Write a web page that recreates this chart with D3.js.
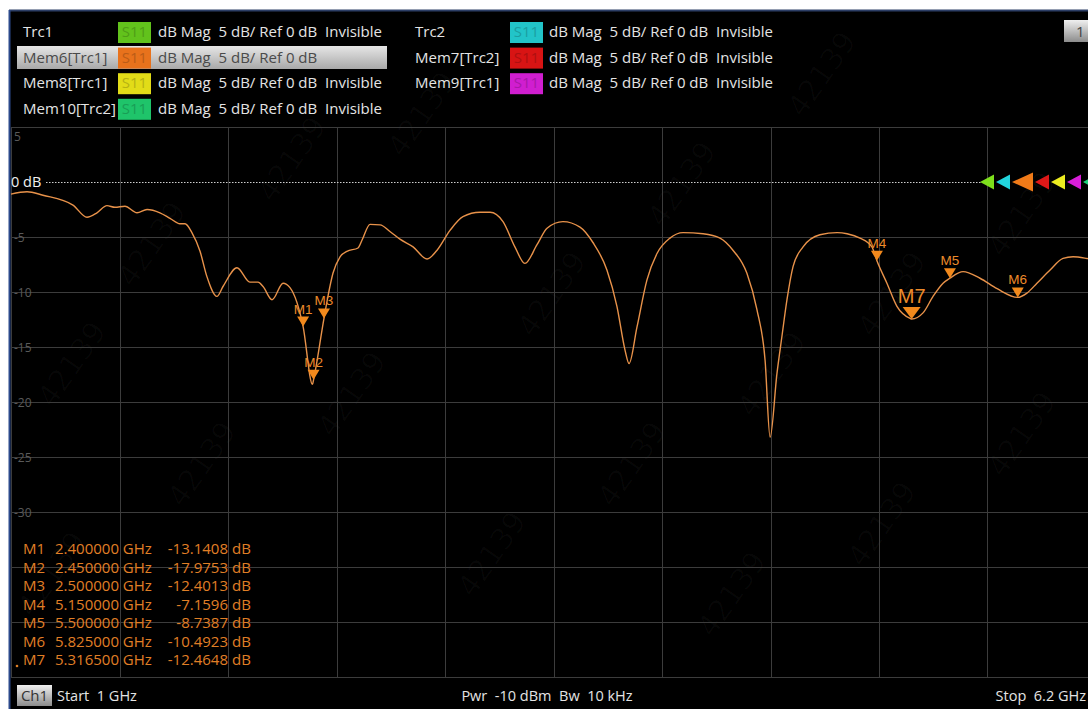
<!DOCTYPE html>
<html>
<head>
<meta charset="utf-8">
<script src="https://cdn.jsdelivr.net/npm/d3@7"></script>
<style>
  body { margin:0; background:#fff; }
  svg { display:block; font-family:"Open Sans", "Noto Sans", sans-serif; }
  .pre { white-space: pre; }
</style>
</head>
<body>
<svg id="vna" width="1088" height="709"></svg>
<script>
// trace data (GHz, dB)
var freq = [1.0, 1.077, 1.153, 1.297, 1.364, 1.412, 1.46, 1.498, 1.546, 1.604, 1.652, 1.714, 1.762, 1.81, 1.834, 1.867,
  1.906, 1.939, 1.987, 2.016, 2.083, 2.145, 2.184, 2.208, 2.251, 2.304, 2.337, 2.4, 2.445, 2.45, 2.5, 2.519, 2.543,
  2.577, 2.61, 2.663, 2.682, 2.721, 2.769, 2.816, 2.864, 2.927, 2.994, 3.042, 3.104, 3.166, 3.248, 3.296, 3.358,
  3.415, 3.463, 3.521, 3.569, 3.645, 3.727, 3.789, 3.856, 3.904, 3.943, 3.962, 4.0, 4.048, 4.096, 4.158, 4.221,
  4.317, 4.398, 4.46, 4.527, 4.575, 4.614, 4.638, 4.671, 4.695, 4.719, 4.748, 4.796, 4.877, 4.959, 5.007, 5.069,
  5.126, 5.15, 5.198, 5.246, 5.309, 5.3165, 5.371, 5.419, 5.467, 5.5, 5.563, 5.644, 5.726, 5.825, 5.869, 5.917,
  5.98, 6.042, 6.09, 6.157, 6.2];
var mag = [-1.1, -0.88, -1.2, -2.1, -3.2, -2.8, -2.15, -2.3, -2.2, -2.8, -2.5, -2.8, -3.3, -3.8, -3.8, -4.6,
  -6.3, -8.6, -10.4, -9.5, -7.8, -9.1, -9.1, -9.5, -10.7, -9.2, -9.6, -13.14, -18.4, -17.98, -12.4, -10.4, -8.3,
  -6.8, -6.3, -6.0, -5.3, -3.85, -3.9, -4.5, -5.2, -5.9, -7.0, -6.2, -4.4, -3.15, -2.75, -2.75, -3.6,
  -5.9, -7.4, -5.7, -4.2, -3.6, -4.1, -5.5, -8.0, -11.3, -15.3, -16.5, -13.2, -8.9, -6.5, -5.1, -4.6,
  -4.7, -5.1, -6.2, -8.3, -11.6, -16.2, -23.2, -17.4, -14.0, -10.7, -7.7, -5.9, -4.8, -4.6, -4.7, -5.1,
  -5.9, -7.16, -9.2, -11.3, -12.4, -12.46, -11.9, -10.4, -9.2, -8.74, -8.15, -8.75, -9.7, -10.49, -10.1, -9.2,
  -8.0, -6.95, -6.8, -6.95, -7.1];

var markerNames = ["M1", "M2", "M3", "M4", "M5", "M6", "M7"];
var markerFreq = [2.4, 2.45, 2.5, 5.15, 5.5, 5.825, 5.3165];
var markerVal = [-13.1408, -17.9753, -12.4013, -7.1596, -8.7387, -10.4923, -12.4648];

var yTicks = [5, 0, -5, -10, -15, -20, -25, -30, -35, -40, -45];
var yLabels = ["5", "0 dB", "-5", "-10", "-15", "-20", "-25", "-30"];

// trace list in the header
var trcNames = ["Trc1", "Mem6[Trc1]", "Mem8[Trc1]", "Mem10[Trc2]", "Trc2", "Mem7[Trc2]", "Mem9[Trc1]"];
var trcColors = ["#62c21c", "#e8721c", "#e2dc18", "#1fc46a", "#22c4c8", "#d81414", "#d01ed0"];
var trcInvisible = [true, false, true, true, true, true, true];
// ref level arrows on the right, left to right
var arrowColors = ["#7ee01c", "#22d4dc", "#f07a18", "#dd1818", "#ecec20", "#d81ed8", "#1fd07a"];

var svg = d3.select("#vna");
var W = 1088, H = 709;

var x = d3.scaleLinear().domain([1, 6.2]).range([11, 1096]);
var y = d3.scaleLinear().domain([5, -45]).range([127, 677]);

// frame
svg.append("rect").attr("width", W).attr("height", H).attr("fill", "#fff");
svg.append("rect").attr("x", 9).attr("y", 10).attr("width", W - 9).attr("height", H - 10).attr("fill", "#000");
svg.append("line").attr("x1", 9).attr("x2", W).attr("y1", 10.5).attr("y2", 10.5)
  .attr("stroke", "#2c3e66").attr("stroke-width", 2);
svg.append("line").attr("x1", 9.5).attr("x2", 9.5).attr("y1", 10).attr("y2", H)
  .attr("stroke", "#2c4a8c").attr("stroke-width", 2);

// faint watermark
var wm = svg.append("g").attr("fill", "#fff").attr("fill-opacity", 0.028)
  .attr("font-size", 30).attr("font-family", "DejaVu Sans");
[[160, 250], [300, 165], [80, 370], [430, 120], [560, 300], [690, 190], [830, 80], [210, 470],
 [360, 400], [500, 560], [640, 470], [780, 380], [900, 300], [1030, 220], [740, 600], [890, 530], [1030, 440], [60, 580]]
  .forEach(function(p) {
    wm.append("text").attr("transform", "translate(" + p[0] + "," + p[1] + ") rotate(-55)")
      .attr("text-anchor", "middle").text("42139");
  });

// grid
var grid = svg.append("g").attr("stroke", "#3c3c3c").attr("stroke-width", 1);
d3.range(0, 11).forEach(function(i) {
  var gx = Math.round(x(1 + 0.52 * i)) + 0.5;
  grid.append("line").attr("x1", gx).attr("x2", gx).attr("y1", y(5)).attr("y2", y(-45));
});
yTicks.forEach(function(v) {
  if (v === 0) return;
  var gy = Math.round(y(v)) + 0.5;
  grid.append("line").attr("x1", 11).attr("x2", W).attr("y1", gy).attr("y2", gy);
});

// y labels
yLabels.forEach(function(t, i) {
  var v = yTicks[i];
  if (v === 0) return;
  svg.append("text").attr("x", 14).attr("y", v === 5 ? y(v) + 14 : y(v) + 5)
    .attr("font-size", 12).attr("fill", "#5a5a5a").text(t);
});

// reference line
svg.append("line").attr("x1", 46).attr("x2", 984).attr("y1", y(0) + 0.5).attr("y2", y(0) + 0.5)
  .attr("stroke", "#cfcfcf").attr("stroke-width", 1.2).attr("stroke-dasharray", "1.5,1.5");
svg.append("text").attr("x", 11).attr("y", y(0) + 5).attr("font-size", 14.5).attr("fill", "#f0f0f0").text("0 dB");

var ax = 980;
arrowColors.forEach(function(c, i) {
  var big = i === 2;
  var w = big ? 21 : 14, h = big ? 19 : 15;
  svg.append("path")
    .attr("d", "M" + ax + "," + y(0) + "L" + (ax + w) + "," + (y(0) - h / 2) + "L" + (ax + w) + "," + (y(0) + h / 2) + "Z")
    .attr("fill", c);
  ax += w + 2;
});

// trace
var pts = freq.map(function(f, i) { return [f, mag[i]]; });
svg.append("path").datum(pts)
  .attr("fill", "none").attr("stroke", "#e8924a").attr("stroke-width", 1.4)
  .attr("d", d3.line().x(function(d) { return x(d[0]); }).y(function(d) { return y(d[1]); }).curve(d3.curveMonotoneX));

// markers
markerNames.forEach(function(m, i) {
  var mx = x(markerFreq[i]), my = y(markerVal[i]);
  var active = m === "M7";
  var w = active ? 9 : 6, h = active ? 12 : 10;
  svg.append("path").attr("d", "M" + mx + "," + my + "L" + (mx - w) + "," + (my - h) + "L" + (mx + w) + "," + (my - h) + "Z")
    .attr("fill", "#f2891c");
  svg.append("text").attr("x", mx).attr("y", my - h - (active ? 4 : 3))
    .attr("text-anchor", "middle").attr("font-family", "Liberation Sans, Arial, sans-serif")
    .attr("font-size", active ? 20 : 13.5).attr("fill", "#ec8a2a").text(m);
});

// marker table
var tbl = svg.append("g").attr("font-size", 15).attr("fill", "#e07f26");
markerNames.forEach(function(m, i) {
  var ty = 554 + i * 18.5;
  tbl.append("text").attr("x", 23).attr("y", ty).text(m);
  tbl.append("text").attr("x", 55).attr("y", ty).text(markerFreq[i].toFixed(6) + " GHz");
  tbl.append("text").attr("x", 228).attr("y", ty).attr("text-anchor", "end").text(markerVal[i].toFixed(4));
  tbl.append("text").attr("x", 232).attr("y", ty).text("dB");
});
tbl.append("circle").attr("cx", 17).attr("cy", 666).attr("r", 1.3);

// header trace list
var defs = svg.append("defs");
var hg = defs.append("linearGradient").attr("id", "hl").attr("x1", 0).attr("x2", 0).attr("y1", 0).attr("y2", 1);
hg.append("stop").attr("offset", "0%").attr("stop-color", "#e6e6e6");
hg.append("stop").attr("offset", "100%").attr("stop-color", "#a9a9a9");

svg.append("rect").attr("x", 17).attr("y", 46).attr("width", 370).attr("height", 23).attr("fill", "url(#hl)");

trcNames.forEach(function(n, i) {
  var col = i < 4 ? 0 : 1;
  var row = i < 4 ? i : i - 4;
  var cy = 32 + row * 25.6;
  var x0 = col ? 415 : 23, bx = col ? 510 : 118, tx = col ? 549 : 158;
  var sel = n === "Mem6[Trc1]";
  var txtCol = sel ? "#4a4a4a" : "#e4e4e4";
  svg.append("text").attr("x", x0).attr("y", cy + 5).attr("font-size", 15).attr("fill", txtCol).text(n);
  svg.append("rect").attr("x", bx).attr("y", cy - 10).attr("width", 33).attr("height", 21).attr("fill", trcColors[i]);
  svg.append("text").attr("x", bx + 16.5).attr("y", cy + 5).attr("text-anchor", "middle").attr("font-size", 15)
    .attr("fill", d3.color(trcColors[i]).darker(0.6)).text("S11");
  svg.append("text").attr("x", tx).attr("y", cy + 5).attr("font-size", 15).attr("fill", txtCol)
    .attr("class", "pre")
    .text("dB Mag  5 dB/ Ref 0 dB" + (trcInvisible[i] ? "  Invisible" : ""));
});

// channel button
var bg = defs.append("linearGradient").attr("id", "btn").attr("x1", 0).attr("x2", 0).attr("y1", 0).attr("y2", 1);
bg.append("stop").attr("offset", "0%").attr("stop-color", "#f0f0f0");
bg.append("stop").attr("offset", "100%").attr("stop-color", "#8c8c8c");
svg.append("rect").attr("x", 1064).attr("y", 20).attr("width", 30).attr("height", 22).attr("fill", "url(#btn)");
svg.append("text").attr("x", 1076).attr("y", 37).attr("font-size", 15).attr("fill", "#444").text("1");

// footer
svg.append("rect").attr("x", 17).attr("y", 685).attr("width", 35).attr("height", 21).attr("fill", "url(#btn)");
svg.append("text").attr("x", 34.5).attr("y", 701).attr("text-anchor", "middle").attr("font-size", 15).attr("fill", "#333").text("Ch1");
var ft = svg.append("g").attr("font-size", 14.5).attr("fill", "#e4e4e4");
ft.append("text").attr("x", 57).attr("y", 701).attr("class", "pre").text("Start  1 GHz");
ft.append("text").attr("x", 547).attr("y", 701).attr("text-anchor", "middle").attr("class", "pre").text("Pwr  -10 dBm  Bw  10 kHz");
ft.append("text").attr("x", 1086).attr("y", 701).attr("text-anchor", "end").attr("class", "pre").text("Stop  6.2 GHz");
</script>
</body>
</html>
